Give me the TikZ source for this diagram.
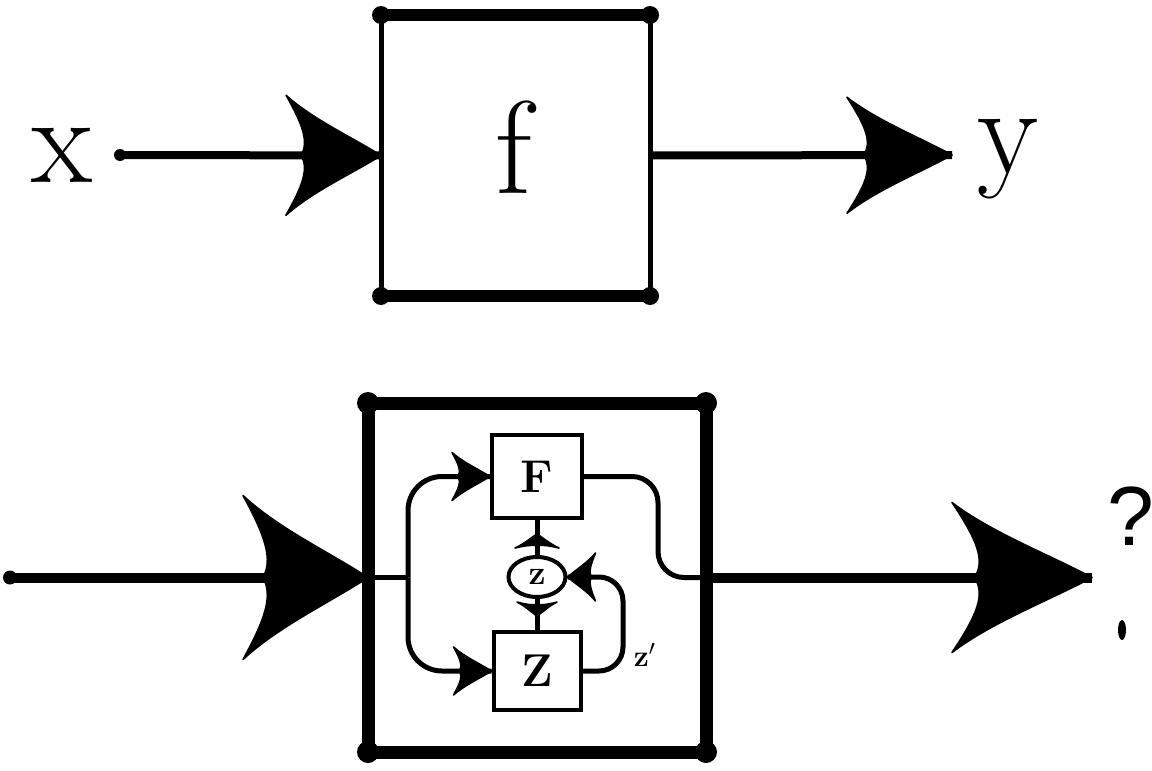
\documentclass[tikz,border=0pt]{standalone}
\usepackage{fontspec}
\newfontfamily\qfont{Liberation Sans}
\usetikzlibrary{decorations.markings,shapes.geometric}
\tikzset{
  fish/.style n args={3}{postaction={decorate,decoration={markings,mark=at position #1 with {\filldraw[sharp corners, line width=0.8pt, line join=round, xscale=#2, yscale=#3] (0,0) .. controls (-0.3,0.3) and (-0.72,0.6) .. (-1,1) .. controls (-0.82,0.5) and (-0.76,0.22) .. (-0.84,0) .. controls (-0.76,-0.22) and (-0.82,-0.5) .. (-1,-1) .. controls (-0.72,-0.6) and (-0.3,-0.3) .. (0,0) -- cycle;}}}},
  biglbl/.style={font=\fontsize{63}{63}\selectfont, inner sep=0},
  hidden/.style={draw=none, inner sep=0, outer sep=0},
  topline/.style={line width=4pt},
  botline/.style={line width=5pt},
  inner/.style={line width=2.5pt},
  ibox/.style={draw, line width=2pt, inner sep=0, font=\bfseries\fontsize{23}{23}\selectfont},
}
\begin{document}
\begin{tikzpicture}[x=0.5pt,y=-0.5pt]
\fill[white] (0,0) rectangle (1152,771);
\useasboundingbox (0,0) rectangle (1152,771);
% ---------- top figure ----------
\node[biglbl] (xl) at (62,155) {x};
\coordinate (xs) at (120,155);
\node[hidden, minimum width=134.5pt, minimum height=140.5pt] (f) at (515.5,155.5) {};
\node[biglbl, font=\fontsize{66}{66}\selectfont] (fl) at (514,147) {f};
\draw[line width=6pt] (f.north west) -- (f.north east);
\draw[line width=6pt] (f.south west) -- (f.south east);
\draw[line width=2.5pt] (f.north west) -- (f.south west);
\draw[line width=2.5pt] (f.north east) -- (f.south east);
\foreach \c in {north west,north east,south west,south east}
  \fill (f.\c) circle (9);
\coordinate (ye) at (952,155);
\node[biglbl] (yl) at (1008,159) {y};
\draw[topline, fish={1}{95}{60}] (xs) -- (f.west);
\fill (xs) circle (6);
\draw[topline, fish={1}{105}{58}] (f.east) -- (ye);
% ---------- bottom figure ----------
\node[draw, line width=6.5pt, minimum width=169pt, minimum height=174.5pt, inner sep=0, outer sep=0] (ob) at (537,577.5) {};
\foreach \c in {north west,north east,south west,south east}
  \fill (ob.\c) circle (11);
\coordinate (is) at (10,577.5);
\coordinate (oe) at (1092,577.5);
\draw[botline, fish={1}{125}{82}] (is) -- (ob.west);
\fill (is) circle (7);
\draw[botline, fish={1}{140}{75}] (ob.east) -- (oe);
% inner parts
\node[ibox, minimum width=45pt, minimum height=41.5pt] (F) at (537,476.5) {F};
\node[ibox, minimum width=43.5pt, minimum height=39pt] (Z) at (537,671) {Z};
\node[ellipse, draw, line width=2pt, minimum width=28.5pt, minimum height=20pt, inner sep=0, font=\bfseries\fontsize{17}{17}\selectfont] (ez) at (537,577) {z};
\coordinate (sp) at (408,577.5);
\draw[inner] (ob.west) -- (sp);
\draw[inner, rounded corners=17pt, fish={1}{38}{24}] (sp) |- (F.west);
\draw[inner, rounded corners=17pt, fish={1}{38}{24}] (sp) |- (Z.west);
\draw[inner, rounded corners=13pt] (F.east) -| (658,577.5) -- (ob.east);
\draw[inner, fish={0.6}{14}{22}] (ez.north) -- (F.south);
\draw[inner, fish={0.55}{14}{20}] (ez.south) -- (Z.north);
\draw[inner, rounded corners=12pt, fish={1}{28}{24}] (Z.east) -| (623,577) -- (ez.east);
\node[font=\bfseries\fontsize{15}{15}\selectfont, inner sep=0] (zp) at (645,655) {z$'$};
% ---------- right margin marks ----------
\node[font=\qfont\fontsize{42}{42}\selectfont, inner sep=0] (q) at (1131,516) {?};
\fill (1122,630) ellipse (4 and 10);
\end{tikzpicture}
\end{document}
